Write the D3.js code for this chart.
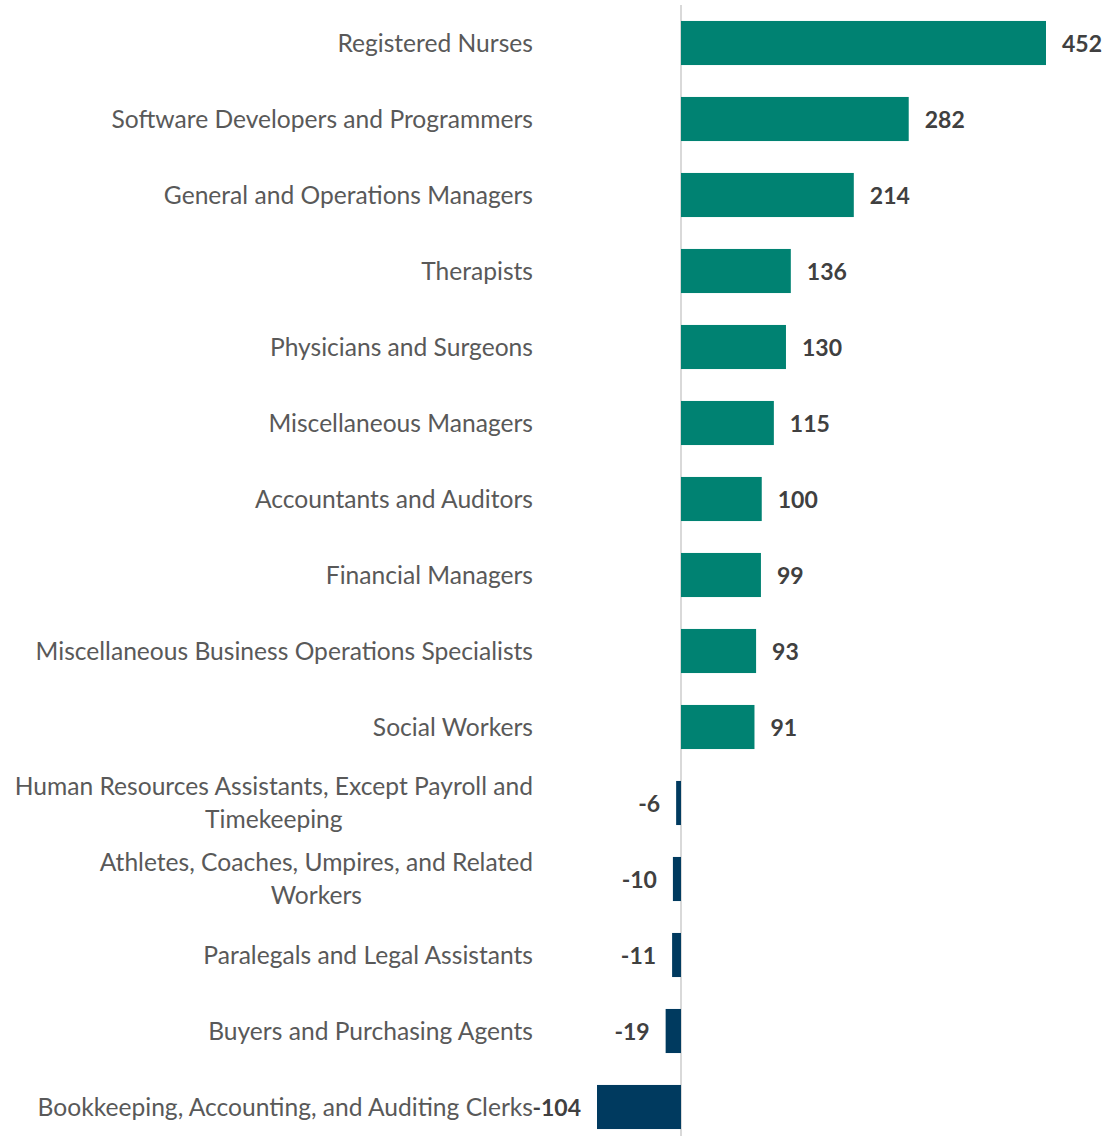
<!DOCTYPE html>
<html><head><meta charset="utf-8">
<script src="https://cdn.jsdelivr.net/npm/d3@7"></script>
<style>body{margin:0;background:#fff}svg{display:block}</style>
</head><body>
<svg id="c" width="1114" height="1136"></svg>
<script>
const categories = [
  "Registered Nurses",
  "Software Developers and Programmers",
  "General and Operations Managers",
  "Therapists",
  "Physicians and Surgeons",
  "Miscellaneous Managers",
  "Accountants and Auditors",
  "Financial Managers",
  "Miscellaneous Business Operations Specialists",
  "Social Workers",
  "Human Resources Assistants, Except Payroll and\nTimekeeping",
  "Athletes, Coaches, Umpires, and Related\nWorkers",
  "Paralegals and Legal Assistants",
  "Buyers and Purchasing Agents",
  "Bookkeeping, Accounting, and Auditing Clerks"
];
const values = [452, 282, 214, 136, 130, 115, 100, 99, 93, 91, -6, -10, -11, -19, -104];

const svg = d3.select("#c");
const x = d3.scaleLinear().domain([-104, 452]).range([597, 1046]);
const y = d3.scaleBand().domain(categories).range([5, 1145]).paddingInner(0.42).paddingOuter(0.21);
const FONT = "Lato, 'Open Sans', sans-serif";

svg.append("line").attr("x1", x(0)).attr("x2", x(0)).attr("y1", 5).attr("y2", 1136)
  .attr("stroke", "#d9d9d9").attr("stroke-width", 2);

svg.selectAll("rect.bar").data(values).join("rect").attr("class","bar")
  .attr("x", d => x(Math.min(0, d)))
  .attr("width", d => Math.abs(x(d) - x(0)))
  .attr("y", (d, i) => y(categories[i]))
  .attr("height", y.bandwidth())
  .attr("fill", d => d >= 0 ? "#008272" : "#003A5F");

svg.selectAll("text.val").data(values).join("text").attr("class","val")
  .attr("x", d => d >= 0 ? x(d) + 16 : x(d) - 16)
  .attr("y", (d, i) => y(categories[i]) + y.bandwidth() / 2 + 1)
  .attr("dy", "0.35em")
  .attr("text-anchor", d => d >= 0 ? "start" : "end")
  .attr("font-family", FONT).attr("font-weight", "bold").attr("font-size", 23)
  .attr("fill", "#404040")
  .text(d => d);

const labelRight = 533;
categories.forEach((c, i) => {
  const lines = c.split("\n");
  const cy = y(c) + y.bandwidth() / 2;
  const lh = 33;
  const g = svg.append("g");
  const ts = lines.map((ln, k) => g.append("text")
    .attr("y", cy + (k - (lines.length - 1) / 2) * lh)
    .attr("dy", "0.35em")
    .attr("font-family", FONT).attr("font-size", 24.6).attr("fill", "#595959")
    .text(ln));
  const widths = ts.map(t => t.node().getComputedTextLength());
  const maxW = d3.max(widths);
  const center = labelRight - maxW / 2;
  ts.forEach(t => t.attr("x", center).attr("text-anchor", "middle"));
});
</script>
</body></html>
